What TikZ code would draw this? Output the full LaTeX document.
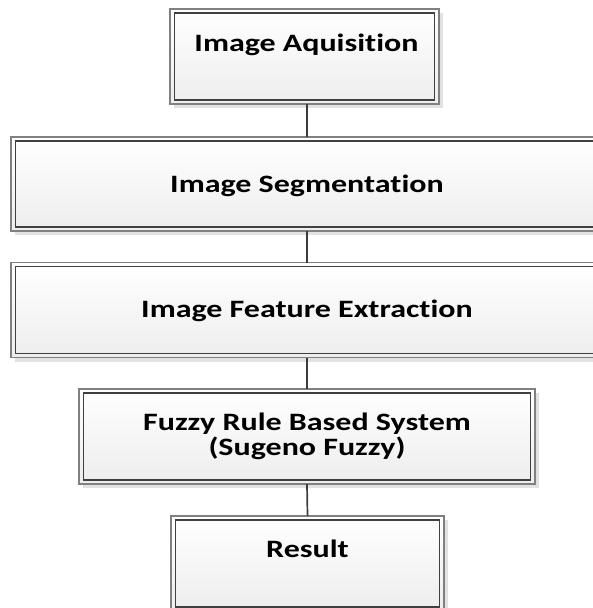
\documentclass[tikz,border=0pt]{standalone}
\usepackage{fontspec}
\newfontfamily\boxfont[FakeStretch=1.28, Ligatures=NoCommon, RawFeature={-liga}]{Carlito}
\usetikzlibrary{shadows}
\definecolor{outerline}{HTML}{808080}
\definecolor{innerline}{HTML}{404040}
\definecolor{connline}{HTML}{3C3C3C}
\definecolor{shadowgray}{HTML}{E2E2E2}
\tikzset{
  stepbox/.style={draw=outerline, line width=1.2pt, top color=white, bottom color=black!7,
    minimum width=#1, minimum height=95pt, inner sep=0pt, outer sep=0pt,
    drop shadow={shadow xshift=4pt, shadow yshift=-4pt, fill=shadowgray, opacity=1}},
  innerbox/.style={draw=innerline, line width=1.2pt},
  conn/.style={draw=connline, line width=1.7pt},
  lbl/.style={font=\boxfont\bfseries\fontsize{25}{25}\selectfont, inner sep=0pt, anchor=base, text=black}
}
\begin{document}
\begin{tikzpicture}[x=1pt,y=-1pt]
\useasboundingbox (0,0) rectangle (593,608);
% boxes
\node[stepbox=269pt] (b1) at (304.5,56.5) {};
\node[stepbox=592pt, minimum height=94pt] (b2) at (307,184) {};
\node[stepbox=592pt] (b3) at (307,310) {};
\node[stepbox=456pt] (b4) at (307,436.5) {};
\node[stepbox=273pt] (b5) at (307.5,563.5) {};
% inner borders
\foreach \b in {b1,b2,b3,b4,b5}{
  \draw[innerbox] ([shift={(4.5pt,-4pt)}]\b.north west) rectangle ([shift={(-4.5pt,4pt)}]\b.south east);
}
% connectors
\draw[conn] (b2.north |- b1.south) -- (b2.north);
\draw[conn] (b2.south) -- (b3.north);
\draw[conn] (b3.south) -- (b4.north);
\draw[conn] (b4.south) -- (b5.north);
% labels
\node[lbl] (t1) at (306.5,51) {Image Aquisition};
\node[lbl] (t2) at (307,192) {Image Segmentation};
\node[lbl] (t3) at (307,317) {Image Feature Extraction};
\node[lbl] (t4a) at (307,430) {Fuzzy Rule Based System};
\node[lbl] (t4b) at (307,455) {(Sugeno Fuzzy)};
\node[lbl] (t5) at (307.5,557) {Result};
\end{tikzpicture}
\end{document}
